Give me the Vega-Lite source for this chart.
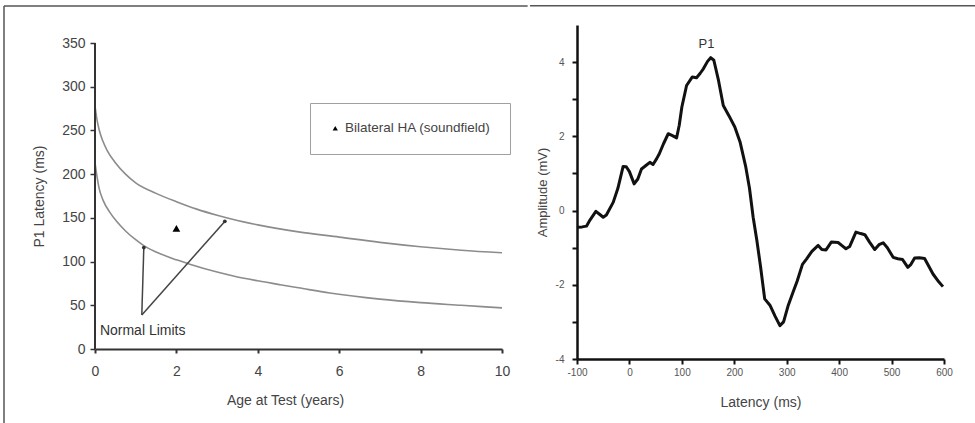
{
  "$schema": "https://vega.github.io/schema/vega-lite/v6.json",
  "padding": {"left": 3, "top": 4, "right": 0, "bottom": 0},
  "background": "white",
  "spacing": 0,
  "config": {"view": {"stroke": null}, "font": "Liberation Sans"},
  "datasets": {
    "curves": [
      {"age": 0, "latency": 278, "limit": "upper"}, {"age": 0.05, "latency": 262, "limit": "upper"}, {"age": 0.1, "latency": 251, "limit": "upper"}, {"age": 0.2, "latency": 237, "limit": "upper"}, {"age": 0.3, "latency": 227, "limit": "upper"}, {"age": 0.5, "latency": 213, "limit": "upper"}, {"age": 0.75, "latency": 200, "limit": "upper"}, {"age": 1, "latency": 190, "limit": "upper"}, {"age": 1.5, "latency": 178, "limit": "upper"}, {"age": 2, "latency": 168.5, "limit": "upper"}, {"age": 2.5, "latency": 160, "limit": "upper"}, {"age": 3, "latency": 153, "limit": "upper"}, {"age": 3.5, "latency": 147, "limit": "upper"}, {"age": 4, "latency": 142, "limit": "upper"}, {"age": 5, "latency": 134, "limit": "upper"}, {"age": 6, "latency": 128, "limit": "upper"}, {"age": 7, "latency": 122, "limit": "upper"}, {"age": 8, "latency": 117, "limit": "upper"}, {"age": 9, "latency": 113, "limit": "upper"}, {"age": 10, "latency": 110, "limit": "upper"},
      {"age": 0, "latency": 213, "limit": "lower"}, {"age": 0.04, "latency": 200, "limit": "lower"}, {"age": 0.1, "latency": 184, "limit": "lower"}, {"age": 0.2, "latency": 170, "limit": "lower"}, {"age": 0.37, "latency": 156, "limit": "lower"}, {"age": 0.53, "latency": 146, "limit": "lower"}, {"age": 0.75, "latency": 135, "limit": "lower"}, {"age": 1, "latency": 125, "limit": "lower"}, {"age": 1.19, "latency": 118.5, "limit": "lower"}, {"age": 1.5, "latency": 111, "limit": "lower"}, {"age": 2, "latency": 102, "limit": "lower"}, {"age": 2.33, "latency": 97, "limit": "lower"}, {"age": 3, "latency": 88, "limit": "lower"}, {"age": 3.4, "latency": 83.5, "limit": "lower"}, {"age": 4, "latency": 78, "limit": "lower"}, {"age": 4.55, "latency": 73.5, "limit": "lower"}, {"age": 5, "latency": 70, "limit": "lower"}, {"age": 5.77, "latency": 64, "limit": "lower"}, {"age": 7, "latency": 57, "limit": "lower"}, {"age": 8, "latency": 53, "limit": "lower"}, {"age": 9, "latency": 50, "limit": "lower"}, {"age": 10, "latency": 47, "limit": "lower"}
    ],
    "erp": [
      {"ms": -100, "amp": -0.45}, {"ms": -90, "amp": -0.44}, {"ms": -82, "amp": -0.42}, {"ms": -75, "amp": -0.25}, {"ms": -64, "amp": -0.02}, {"ms": -57, "amp": -0.1}, {"ms": -50, "amp": -0.18}, {"ms": -44, "amp": -0.12}, {"ms": -31, "amp": 0.22}, {"ms": -22, "amp": 0.6}, {"ms": -12, "amp": 1.19}, {"ms": -6, "amp": 1.18}, {"ms": 0, "amp": 1.05}, {"ms": 9, "amp": 0.72}, {"ms": 16, "amp": 0.85}, {"ms": 23, "amp": 1.12}, {"ms": 32, "amp": 1.22}, {"ms": 39, "amp": 1.3}, {"ms": 45, "amp": 1.24}, {"ms": 52, "amp": 1.4}, {"ms": 57, "amp": 1.53}, {"ms": 65, "amp": 1.8}, {"ms": 74, "amp": 2.07}, {"ms": 82, "amp": 2.02}, {"ms": 90, "amp": 1.96}, {"ms": 95, "amp": 2.3}, {"ms": 100, "amp": 2.79}, {"ms": 109, "amp": 3.37}, {"ms": 120, "amp": 3.6}, {"ms": 128, "amp": 3.58}, {"ms": 135, "amp": 3.7}, {"ms": 141, "amp": 3.82}, {"ms": 149, "amp": 4.02}, {"ms": 155, "amp": 4.12}, {"ms": 161, "amp": 4.05}, {"ms": 170, "amp": 3.5}, {"ms": 179, "amp": 2.83}, {"ms": 190, "amp": 2.55}, {"ms": 201, "amp": 2.25}, {"ms": 211, "amp": 1.85}, {"ms": 222, "amp": 1.17}, {"ms": 229, "amp": 0.6}, {"ms": 236, "amp": -0.18}, {"ms": 243, "amp": -0.8}, {"ms": 250, "amp": -1.5}, {"ms": 258, "amp": -2.38}, {"ms": 268, "amp": -2.55}, {"ms": 278, "amp": -2.85}, {"ms": 287, "amp": -3.1}, {"ms": 294, "amp": -3.0}, {"ms": 303, "amp": -2.55}, {"ms": 312, "amp": -2.2}, {"ms": 320, "amp": -1.9}, {"ms": 330, "amp": -1.45}, {"ms": 338, "amp": -1.3}, {"ms": 348, "amp": -1.1}, {"ms": 360, "amp": -0.94}, {"ms": 367, "amp": -1.05}, {"ms": 375, "amp": -1.06}, {"ms": 385, "amp": -0.85}, {"ms": 398, "amp": -0.86}, {"ms": 406, "amp": -0.95}, {"ms": 413, "amp": -1.03}, {"ms": 420, "amp": -0.97}, {"ms": 432, "amp": -0.58}, {"ms": 441, "amp": -0.62}, {"ms": 449, "amp": -0.65}, {"ms": 458, "amp": -0.85}, {"ms": 468, "amp": -1.05}, {"ms": 476, "amp": -0.92}, {"ms": 484, "amp": -0.87}, {"ms": 492, "amp": -1.0}, {"ms": 503, "amp": -1.26}, {"ms": 512, "amp": -1.3}, {"ms": 521, "amp": -1.32}, {"ms": 531, "amp": -1.53}, {"ms": 537, "amp": -1.45}, {"ms": 544, "amp": -1.28}, {"ms": 553, "amp": -1.27}, {"ms": 563, "amp": -1.29}, {"ms": 571, "amp": -1.5}, {"ms": 579, "amp": -1.71}, {"ms": 590, "amp": -1.92}, {"ms": 598, "amp": -2.05}
    ]
  },
  "hconcat": [
    {
      "width": 407,
      "height": 324,
      "layer": [
        {
          "data": {"name": "curves"},
          "mark": {"type": "line", "color": "#8c8c8c", "strokeWidth": 1.6, "interpolate": "monotone"},
          "encoding": {
            "x": {"field": "age", "type": "quantitative",
              "scale": {"domain": [0, 10], "nice": false, "zero": false},
              "axis": {"title": "Age at Test (years)", "values": [0, 2, 4, 6, 8, 10], "grid": false,
                "labelFontSize": 14, "labelColor": "#444", "labelPadding": 11, "tickSize": 4, "tickWidth": 2, "tickColor": "#333",
                "domainColor": "#333", "domainWidth": 2, "titleFontSize": 14, "titleFontWeight": "normal", "titleColor": "#444", "titlePadding": 15, "titleX": 190, "labelFlush": false}},
            "y": {"field": "latency", "type": "quantitative",
              "scale": {"domain": [0, 370.6], "nice": false, "zero": false},
              "axis": {"title": "P1 Latency (ms)", "values": [0, 50, 100, 150, 200, 250, 300, 350], "grid": false, "domain": false,
                "labelFontSize": 14, "labelColor": "#444", "labelPadding": 5, "tickSize": 5, "tickWidth": 1.5, "tickColor": "#333",
                "titleFontSize": 14, "titleFontWeight": "normal", "titleColor": "#444", "titlePadding": 15, "titleY": 171, "labelFlush": false}},
            "detail": {"field": "limit", "type": "nominal"}
          }
        },
        {
          "data": {"values": [{"age": 0, "latency": 0, "age2": 0, "latency2": 350}]},
          "mark": {"type": "rule", "color": "#333", "strokeWidth": 2},
          "encoding": {
            "x": {"field": "age", "type": "quantitative"},
            "y": {"field": "latency", "type": "quantitative"},
            "x2": {"field": "age2"},
            "y2": {"field": "latency2"}
          }
        },
        {
          "data": {"values": [{"age": 1.15, "latency": 39, "age2": 1.2, "latency2": 117}, {"age": 1.15, "latency": 39, "age2": 3.2, "latency2": 146.5}]},
          "mark": {"type": "rule", "color": "#444", "strokeWidth": 1.5},
          "encoding": {
            "x": {"field": "age", "type": "quantitative"},
            "y": {"field": "latency", "type": "quantitative"},
            "x2": {"field": "age2"},
            "y2": {"field": "latency2"}
          }
        },
        {
          "data": {"values": [{"age": 1.2, "latency": 116}, {"age": 3.19, "latency": 146}]},
          "mark": {"type": "point", "filled": true, "color": "#333", "size": 14, "opacity": 1},
          "encoding": {
            "x": {"field": "age", "type": "quantitative"},
            "y": {"field": "latency", "type": "quantitative"}
          }
        },
        {
          "data": {"values": [{"age": 2.0, "latency": 138, "series": "Bilateral HA (soundfield)"}]},
          "mark": {"type": "point", "filled": true, "color": "black", "size": 60, "opacity": 1},
          "encoding": {
            "x": {"field": "age", "type": "quantitative"},
            "y": {"field": "latency", "type": "quantitative"},
            "shape": {"field": "series", "type": "nominal",
              "scale": {"range": ["triangle-up"]},
              "legend": {"orient": "none", "legendX": 215, "legendY": 78, "title": null, "padding": 18.5,
                "strokeColor": "#a0a0a0", "fillColor": "white", "labelFontSize": 13.5, "labelColor": "#444",
                "symbolSize": 28, "symbolFillColor": "black", "symbolStrokeColor": "black", "labelOffset": 3}}
          }
        },
        {
          "data": {"values": [{"age": 0.12, "latency": 20.6, "label": "Normal Limits"}]},
          "mark": {"type": "text", "align": "left", "baseline": "middle", "fontSize": 14, "color": "#333"},
          "encoding": {
            "x": {"field": "age", "type": "quantitative"},
            "y": {"field": "latency", "type": "quantitative"},
            "text": {"field": "label"}
          }
        },
        {
          "data": {"values": [{"age": -2.236, "latency": 392.3, "age2": 10.63, "latency2": 392.3}, {"age": -2.236, "latency": 392.3, "age2": -2.236, "latency2": -110}]},
          "mark": {"type": "rule", "color": "#555", "strokeWidth": 1.5},
          "encoding": {
            "x": {"field": "age", "type": "quantitative"},
            "y": {"field": "latency", "type": "quantitative"},
            "x2": {"field": "age2"},
            "y2": {"field": "latency2"}
          }
        }
      ]
    },
    {
      "width": 367,
      "height": 334,
      "layer": [
        {
          "data": {"name": "erp"},
          "mark": {"type": "line", "color": "#111", "strokeWidth": 3, "strokeJoin": "round"},
          "encoding": {
            "x": {"field": "ms", "type": "quantitative",
              "scale": {"domain": [-100, 600], "nice": false, "zero": false},
              "axis": {"title": "Latency (ms)", "values": [-100, -50, 0, 50, 100, 150, 200, 250, 300, 350, 400, 450, 500, 550, 600],
                "labelExpr": "datum.value % 100 === 0 ? '' + datum.value : ''", "grid": false,
                "labelFontSize": 10, "labelColor": "#555", "labelPadding": 3, "tickSize": 5, "tickWidth": 2, "tickColor": "#111",
                "domainColor": "#111", "domainWidth": 2.5, "titleFontSize": 14, "titleFontWeight": "normal", "titleColor": "#444", "titlePadding": 18, "labelFlush": false}},
            "y": {"field": "amp", "type": "quantitative",
              "scale": {"domain": [-4, 5], "nice": false, "zero": false},
              "axis": {"title": "Amplitude (mV)", "values": [-4, -3, -2, -1, 0, 1, 2, 3, 4],
                "labelExpr": "datum.value % 2 === 0 ? '' + datum.value : ''", "grid": false,
                "labelFontSize": 10, "labelColor": "#555", "labelPadding": 8, "tickSize": 5, "tickWidth": 2, "tickColor": "#111",
                "domainColor": "#111", "domainWidth": 2.5, "titleFontSize": 13, "titleFontWeight": "normal", "titleColor": "#444", "titlePadding": 6, "labelFlush": false}}
          }
        },
        {
          "data": {"values": [{"ms": 147, "amp": 4.49, "label": "P1"}]},
          "mark": {"type": "text", "align": "center", "baseline": "middle", "fontSize": 13, "color": "#333"},
          "encoding": {
            "x": {"field": "ms", "type": "quantitative"},
            "y": {"field": "amp", "type": "quantitative"},
            "text": {"field": "label"}
          }
        },
        {
          "data": {"values": [{"ms": -189.6, "amp": 5.52, "ms2": 660, "amp2": 5.52}]},
          "mark": {"type": "rule", "color": "#555", "strokeWidth": 1.5},
          "encoding": {
            "x": {"field": "ms", "type": "quantitative"},
            "y": {"field": "amp", "type": "quantitative"},
            "x2": {"field": "ms2"},
            "y2": {"field": "amp2"}
          }
        }
      ]
    }
  ]
}
